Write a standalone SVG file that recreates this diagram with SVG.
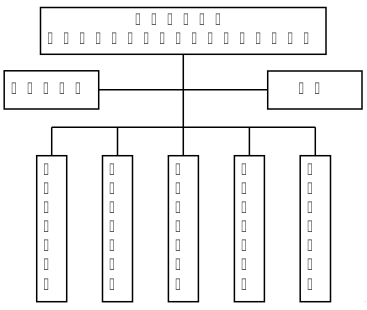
<svg xmlns="http://www.w3.org/2000/svg" width="367" height="310" viewBox="0 0 367 310">
<style>
.box{fill:#fff;stroke:#000;stroke-width:1.5}
.ln{fill:none;stroke:#000;stroke-width:1.5}
.t{font-family:"Noto Sans",sans-serif;font-size:16px;fill:#333}
.tg{filter:url(#gray)}
</style>
<defs>
<filter id="gray" x="-20%" y="-20%" width="140%" height="140%"><feColorMatrix type="saturate" values="0"/></filter>
</defs>
<rect width="367" height="310" fill="#fff"/>
<g id="connectors">
<path class="ln" d="M183.3 54.3V127.3M98.7 89.7H267.7M51.7 127.3H315.3M51.7 127.3V155.7M117.5 127.3V155.7M183.3 127.3V155.7M249.4 127.3V155.7M315.3 127.3V155.7"/>
</g>
<g id="top">
<rect class="box" x="40.5" y="7.5" width="285.5" height="46.8"/>
<g class="tg" transform="translate(135 0) scale(0.625 1)"><text class="t" x="0 25.6 51.2 76.8 102.4 128" y="25">&#x10FFFD;&#x10FFFD;&#x10FFFD;&#x10FFFD;&#x10FFFD;&#x10FFFD;</text></g>
<g class="tg" transform="translate(47.3 0) scale(0.625 1)"><text class="t" x="0 25.6 51.2 76.8 102.4 128 153.6 179.2 204.8 230.4 256 281.6 307.2 332.8 358.4 384 409.6" y="44.3">&#x10FFFD;&#x10FFFD;&#x10FFFD;&#x10FFFD;&#x10FFFD;&#x10FFFD;&#x10FFFD;&#x10FFFD;&#x10FFFD;&#x10FFFD;&#x10FFFD;&#x10FFFD;&#x10FFFD;&#x10FFFD;&#x10FFFD;&#x10FFFD;&#x10FFFD;</text></g>
</g>
<g id="left">
<rect class="box" x="4.2" y="70.8" width="94.5" height="38.2"/>
<g class="tg" transform="translate(11 0) scale(0.625 1)"><text class="t" x="0 25.6 51.2 76.8 102.4" y="94.3">&#x10FFFD;&#x10FFFD;&#x10FFFD;&#x10FFFD;&#x10FFFD;</text></g>
</g>
<g id="right">
<rect class="box" x="267.7" y="71" width="94.3" height="38"/>
<g class="tg" transform="translate(298.3 0) scale(0.625 1)"><text class="t" x="0 25.6" y="94.3">&#x10FFFD;&#x10FFFD;</text></g>
</g>
<g id="b1"><rect class="box" x="36.7" y="155.7" width="30" height="146"/><g class="tg" transform="translate(43.3 0) scale(0.625 1)"><text class="t" x="0 0 0 0 0 0 0" y="175 194.1 213.2 232.3 251.4 270.5 289.6">&#x10FFFD;&#x10FFFD;&#x10FFFD;&#x10FFFD;&#x10FFFD;&#x10FFFD;&#x10FFFD;</text></g></g>
<g id="b2"><rect class="box" x="102.5" y="155.7" width="30" height="146"/><g class="tg" transform="translate(109 0) scale(0.625 1)"><text class="t" x="0 0 0 0 0 0 0" y="175 194.1 213.2 232.3 251.4 270.5 289.6">&#x10FFFD;&#x10FFFD;&#x10FFFD;&#x10FFFD;&#x10FFFD;&#x10FFFD;&#x10FFFD;</text></g></g>
<g id="b3"><rect class="box" x="168.4" y="155.7" width="30" height="146"/><g class="tg" transform="translate(175 0) scale(0.625 1)"><text class="t" x="0 0 0 0 0 0 0" y="175 194.1 213.2 232.3 251.4 270.5 289.6">&#x10FFFD;&#x10FFFD;&#x10FFFD;&#x10FFFD;&#x10FFFD;&#x10FFFD;&#x10FFFD;</text></g></g>
<g id="b4"><rect class="box" x="234.4" y="155.7" width="30" height="146"/><g class="tg" transform="translate(241 0) scale(0.625 1)"><text class="t" x="0 0 0 0 0 0 0" y="175 194.1 213.2 232.3 251.4 270.5 289.6">&#x10FFFD;&#x10FFFD;&#x10FFFD;&#x10FFFD;&#x10FFFD;&#x10FFFD;&#x10FFFD;</text></g></g>
<g id="b5"><rect class="box" x="300.2" y="155.7" width="30.3" height="146"/><g class="tg" transform="translate(307 0) scale(0.625 1)"><text class="t" x="0 0 0 0 0 0 0" y="175 194.1 213.2 232.3 251.4 270.5 289.6">&#x10FFFD;&#x10FFFD;&#x10FFFD;&#x10FFFD;&#x10FFFD;&#x10FFFD;&#x10FFFD;</text></g></g>
<text x="364.6" y="302" font-family="Liberation Sans,sans-serif" font-size="5px" fill="#555">.</text>
</svg>
